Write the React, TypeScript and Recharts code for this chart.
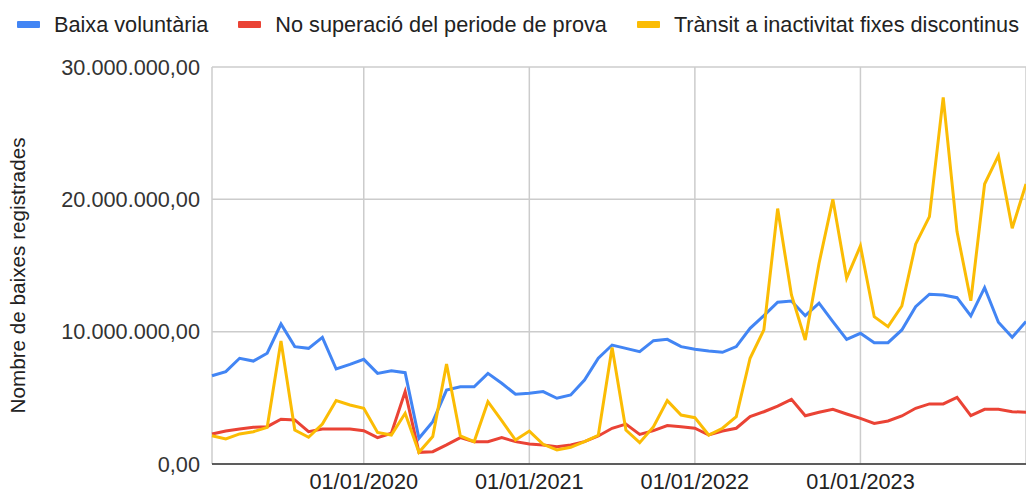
import { LineChart, Line, XAxis, YAxis, CartesianGrid } from 'recharts';

const mesos = [
  '2019-02', '2019-03', '2019-04', '2019-05', '2019-06', '2019-07', '2019-08', '2019-09', '2019-10', '2019-11', '2019-12',
  '2020-01', '2020-02', '2020-03', '2020-04', '2020-05', '2020-06', '2020-07', '2020-08', '2020-09', '2020-10', '2020-11', '2020-12',
  '2021-01', '2021-02', '2021-03', '2021-04', '2021-05', '2021-06', '2021-07', '2021-08', '2021-09', '2021-10', '2021-11', '2021-12',
  '2022-01', '2022-02', '2022-03', '2022-04', '2022-05', '2022-06', '2022-07', '2022-08', '2022-09', '2022-10', '2022-11', '2022-12',
  '2023-01', '2023-02', '2023-03', '2023-04', '2023-05', '2023-06', '2023-07', '2023-08', '2023-09', '2023-10', '2023-11', '2023-12',
  '2024-01',
];

// milions de baixes
const baixaVoluntaria = [
  6.67, 6.98, 7.99, 7.78, 8.37, 10.58, 8.87, 8.74, 9.57, 7.18, 7.53,
  7.91, 6.85, 7.05, 6.9, 1.94, 3.2, 5.59, 5.84, 5.84, 6.85, 6.1, 5.27,
  5.34, 5.47, 4.97, 5.22, 6.35, 7.99, 8.99, 8.74, 8.49, 9.32, 9.42, 8.87,
  8.67, 8.54, 8.44, 8.87, 10.25, 11.21, 12.22, 12.32, 11.21, 12.15, 10.76, 9.42,
  9.88, 9.17, 9.17, 10.13, 11.89, 12.83, 12.77, 12.57, 11.19, 13.33, 10.71, 9.58,
  10.76,
];

const noSuperacio = [
  2.27, 2.49, 2.65, 2.77, 2.82, 3.38, 3.33, 2.44, 2.65, 2.65, 2.65,
  2.52, 1.99, 2.32, 5.47, 0.88, 0.93, 1.44, 1.99, 1.69, 1.69, 1.99, 1.69,
  1.51, 1.44, 1.31, 1.44, 1.69, 2.12, 2.7, 3.02, 2.24, 2.52, 2.9, 2.82,
  2.7, 2.19, 2.49, 2.7, 3.58, 3.95, 4.38, 4.89, 3.65, 3.91, 4.13, 3.78,
  3.45, 3.07, 3.25, 3.63, 4.21, 4.54, 4.54, 5.04, 3.65, 4.13, 4.13, 3.95,
  3.91,
];

const transitInactivitat = [
  2.14, 1.89, 2.27, 2.44, 2.77, 9.3, 2.57, 2.02, 3.02, 4.79, 4.46,
  4.21, 2.39, 2.19, 3.83, 0.88, 2.07, 7.55, 2.12, 1.69, 4.71, 3.27, 1.81,
  2.49, 1.49, 1.06, 1.26, 1.69, 2.17, 8.8, 2.57, 1.61, 2.82, 4.79, 3.7,
  3.5, 2.19, 2.7, 3.58, 7.99, 10.13, 19.3, 12.77, 9.37, 15.17, 20.0, 14.04,
  16.48, 11.13, 10.38, 11.94, 16.61, 18.69, 27.7, 17.56, 12.34, 21.16, 23.3, 17.81,
  21.16,
];

const mesosTick = ['2020-01', '2021-01', '2022-01', '2023-01'];
const etiquetesTick = ['01/01/2020', '01/01/2021', '01/01/2022', '01/01/2023'];
const valorsY = [0, 10000000, 20000000, 30000000];

const series = [
  { key: 'voluntaria', name: 'Baixa voluntària', color: '#4285F4', values: baixaVoluntaria },
  { key: 'prova', name: 'No superació del periode de prova', color: '#EA4335', values: noSuperacio },
  { key: 'transit', name: 'Trànsit a inactivitat fixes discontinus', color: '#FBBC04', values: transitInactivitat },
];

const data = mesos.map((m, i) => {
  const row: Record<string, number | string> = { i, mes: m };
  series.forEach((s) => {
    row[s.key] = s.values[i] * 1000000;
  });
  return row;
});

const xTicks = mesosTick.map((m) => mesos.indexOf(m));

const FONT = '"Liberation Sans", Arial, sans-serif';
const FS = 21.7;

const formatY = (v: number) =>
  Math.round(v).toString().replace(/\B(?=(\d{3})+(?!\d))/g, '.') + ',00';

export default function App() {
  return (
    <div
      style={{
        position: 'absolute',
        left: 0,
        top: 0,
        width: 1026,
        height: 494,
        overflow: 'hidden',
        background: '#fff',
        fontFamily: FONT,
      }}
    >
      <div
        style={{
          position: 'absolute',
          left: 17,
          top: 14,
          display: 'flex',
          alignItems: 'center',
          fontSize: FS,
          lineHeight: '21px',
          color: '#222',
          whiteSpace: 'nowrap',
        }}
      >
        {series.map((s) => (
          <div key={s.key} style={{ display: 'flex', alignItems: 'center', marginRight: 30 }}>
            <span
              style={{
                display: 'inline-block',
                width: 23,
                height: 7,
                borderRadius: 1,
                background: s.color,
                marginRight: 14,
              }}
            />
            <span>{s.name}</span>
          </div>
        ))}
      </div>
      <LineChart
        width={1026}
        height={494}
        data={data}
        margin={{ top: 67, right: 0, bottom: 0, left: 0 }}
      >
        <CartesianGrid stroke="#cccccc" strokeWidth={1.5} />
        <XAxis
          dataKey="i"
          type="number"
          domain={[0, mesos.length - 1]}
          ticks={xTicks}
          tickFormatter={(v: number) => etiquetesTick[xTicks.indexOf(v)]}
          height={30}
          tickLine={false}
          tickSize={0}
          tickMargin={10}
          axisLine={{ stroke: '#333333', strokeWidth: 1.5 }}
          tick={{ fill: '#222', fontSize: FS, fontFamily: FONT }}
          interval={0}
        />
        <YAxis
          type="number"
          domain={[0, 30000000]}
          ticks={valorsY}
          tickFormatter={formatY}
          width={212}
          tickLine={false}
          tickSize={0}
          tickMargin={12}
          axisLine={false}
          tick={{ fill: '#333', fontSize: FS, fontFamily: FONT }}
          label={{
            content: (props: any) => {
              const vb = props.viewBox || { y: 67, height: 397 };
              const cy = vb.y + vb.height / 2 + 10;
              return (
                <text
                  x={17}
                  y={cy}
                  transform={`rotate(-90, 17, ${cy})`}
                  textAnchor="middle"
                  dominantBaseline="central"
                  fill="#222"
                  fontSize={20.7}
                  fontFamily={FONT}
                >
                  Nombre de baixes registrades
                </text>
              );
            },
          }}
        />
        {series.map((s) => (
          <Line
            key={s.key}
            type="linear"
            dataKey={s.key}
            name={s.name}
            stroke={s.color}
            strokeWidth={3}
            dot={false}
            activeDot={false}
            isAnimationActive={false}
          />
        ))}
      </LineChart>
    </div>
  );
}
